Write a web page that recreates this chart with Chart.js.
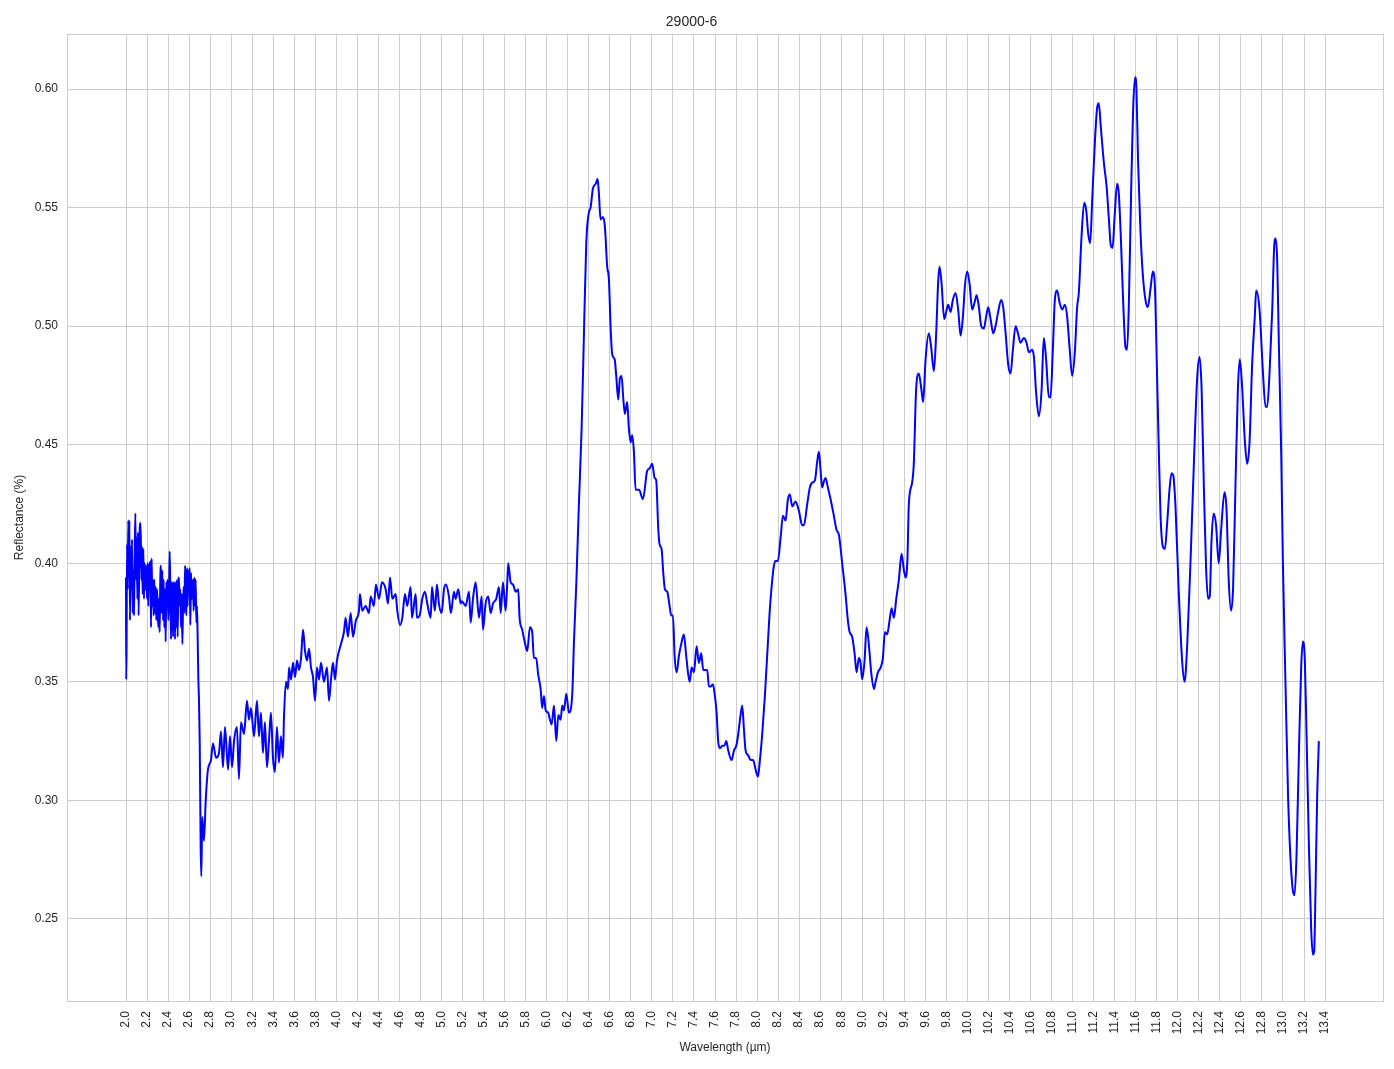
<!DOCTYPE html>
<html>
<head>
<meta charset="utf-8">
<script src="https://cdn.jsdelivr.net/npm/chart.js@4.4.1/dist/chart.umd.min.js"></script>
<style>
  html, body { margin: 0; padding: 0; background: #ffffff; }
  canvas { display: block; }
</style>
</head>
<body>
<canvas id="chart" width="1394" height="1069"></canvas>
<script>
// [wavelength µm, reflectance] pairs, by region
const noisyStart = [
  [2.000,0.394],[2.002,0.351],[2.005,0.362],[2.010,0.408],[2.016,0.389],[2.022,0.418],[2.029,0.399],
  [2.032,0.418],[2.038,0.376],[2.044,0.407],[2.051,0.389],[2.057,0.410],[2.063,0.379],[2.070,0.397],
  [2.076,0.378],[2.082,0.403],[2.089,0.421],[2.095,0.393],[2.101,0.411],[2.108,0.385],[2.114,0.413],
  [2.120,0.378],[2.127,0.407],[2.133,0.416],[2.139,0.417],[2.146,0.393],[2.152,0.407],[2.158,0.387],
  [2.165,0.406],[2.171,0.385],[2.177,0.400],[2.184,0.389],[2.190,0.399],[2.200,0.385],[2.206,0.400],
  [2.212,0.382],[2.219,0.400],[2.225,0.389],[2.231,0.401],[2.238,0.373],[2.244,0.402],[2.250,0.382],
  [2.257,0.393],[2.263,0.378],[2.269,0.393],[2.276,0.379],[2.282,0.390],[2.288,0.376],[2.295,0.389],
  [2.301,0.382],[2.307,0.373],[2.314,0.385],[2.320,0.371],[2.326,0.393],[2.333,0.399],[2.339,0.379],
  [2.345,0.397],[2.352,0.376],[2.358,0.393],[2.364,0.373],[2.371,0.389],[2.377,0.367],[2.383,0.392],
  [2.390,0.385],[2.396,0.393],[2.402,0.376],[2.409,0.385],[2.415,0.405],[2.421,0.390],[2.428,0.368],
  [2.434,0.389],[2.440,0.392],[2.447,0.369],[2.453,0.389],[2.459,0.392],[2.466,0.368],[2.472,0.392],
  [2.478,0.373],[2.485,0.393],[2.491,0.369],[2.497,0.390],[2.504,0.394],[2.510,0.382],[2.516,0.389],
  [2.523,0.373],[2.529,0.387],[2.536,0.366],[2.542,0.382],[2.548,0.390],[2.555,0.379],[2.561,0.399],
  [2.567,0.389],[2.574,0.378],[2.580,0.398],[2.586,0.382],[2.593,0.397],[2.599,0.389],[2.605,0.398],
  [2.612,0.374],[2.618,0.396],[2.624,0.385],[2.631,0.389],[2.637,0.393],[2.643,0.380],[2.650,0.394],
  [2.656,0.382],[2.662,0.393],[2.669,0.375],[2.675,0.382],[2.681,0.369],[2.688,0.351],[2.694,0.342]
];

const dropAndRecovery = [
  [2.701,0.324],[2.710,0.280],[2.716,0.268],[2.725,0.293],[2.741,0.283],[2.758,0.300],[2.779,0.313],
  [2.808,0.317],[2.827,0.324],[2.856,0.318],[2.884,0.320],[2.903,0.329],[2.922,0.314],[2.941,0.331],
  [2.970,0.313],[2.989,0.327],[3.008,0.314],[3.027,0.325],[3.055,0.331],[3.074,0.309],[3.093,0.333],
  [3.122,0.328],[3.150,0.342],[3.169,0.334],[3.188,0.339],[3.217,0.327],[3.245,0.342],[3.264,0.327],
  [3.283,0.337],[3.302,0.320],[3.321,0.333],[3.340,0.314],[3.359,0.325],[3.378,0.337],[3.397,0.318],
  [3.416,0.312],[3.435,0.331],[3.454,0.316],[3.473,0.327],[3.492,0.318],[3.502,0.335],[3.521,0.350],
  [3.540,0.347],[3.550,0.356],[3.569,0.351],[3.588,0.358],[3.607,0.352],[3.626,0.359],[3.645,0.355],
  [3.664,0.360],[3.683,0.372],[3.702,0.363],[3.721,0.359],[3.740,0.364],[3.759,0.356],[3.778,0.352],
  [3.797,0.342],[3.816,0.356],[3.835,0.351],[3.854,0.358],[3.882,0.350],[3.911,0.356],[3.930,0.342],
  [3.949,0.351],[3.968,0.358],[3.987,0.351],[4.006,0.359]
];

const plateau = [
  [4.044,0.366],[4.072,0.371],[4.088,0.377],[4.110,0.369],[4.136,0.379],[4.158,0.369],[4.186,0.376],
  [4.215,0.380],[4.224,0.387],[4.246,0.380],[4.278,0.382],[4.310,0.379],[4.326,0.386],[4.357,0.382],
  [4.376,0.391],[4.405,0.385],[4.434,0.392],[4.469,0.389],[4.491,0.383],[4.510,0.394],[4.532,0.385],
  [4.564,0.387],[4.579,0.380],[4.605,0.374],[4.627,0.377],[4.652,0.387],[4.674,0.382],[4.706,0.390],
  [4.719,0.377],[4.754,0.387],[4.766,0.377],[4.792,0.378],[4.817,0.385],[4.842,0.388],[4.864,0.383],
  [4.897,0.377],[4.909,0.390],[4.937,0.380],[4.956,0.391],[4.975,0.383],[5.001,0.379],[5.023,0.389],
  [5.042,0.391],[5.070,0.386],[5.089,0.379],[5.118,0.388],[5.134,0.385],[5.159,0.389],[5.182,0.383],
  [5.194,0.384],[5.229,0.382],[5.261,0.388],[5.277,0.375],[5.299,0.385],[5.324,0.392],[5.356,0.377],
  [5.381,0.386],[5.394,0.372],[5.419,0.383],[5.444,0.386],[5.467,0.379],[5.489,0.383],[5.520,0.385],
  [5.546,0.390],[5.562,0.379],[5.584,0.392],[5.609,0.380],[5.625,0.392],[5.634,0.400],[5.657,0.392],
  [5.680,0.391],[5.704,0.388],[5.729,0.389],[5.742,0.377],[5.767,0.372],[5.790,0.367],[5.815,0.363],
  [5.840,0.373],[5.862,0.371],[5.878,0.360],[5.900,0.360],[5.919,0.353],[5.942,0.347],[5.957,0.339],
  [5.974,0.344],[5.990,0.338],[6.014,0.337],[6.031,0.334],[6.047,0.332],[6.069,0.340],[6.091,0.325],
  [6.110,0.336],[6.132,0.334],[6.148,0.340],[6.164,0.338],[6.186,0.345],[6.211,0.337],[6.243,0.345]
];

const peak65 = [
  [6.259,0.367],[6.281,0.391],[6.306,0.425],[6.332,0.457],[6.354,0.497],[6.376,0.535],[6.401,0.548],
  [6.417,0.550],[6.439,0.558],[6.465,0.560],[6.484,0.562],[6.496,0.556],[6.512,0.545],[6.534,0.546],
  [6.553,0.542],[6.575,0.525],[6.591,0.520],[6.608,0.499],[6.623,0.488],[6.646,0.486],[6.661,0.479],
  [6.680,0.469],[6.696,0.478],[6.712,0.479],[6.727,0.470],[6.743,0.463],[6.765,0.468],[6.781,0.457],
  [6.798,0.451],[6.813,0.454],[6.829,0.447],[6.845,0.431],[6.877,0.431],[6.915,0.427],[6.955,0.439],
  [6.978,0.440],[7.003,0.442],[7.026,0.436],[7.041,0.435],[7.060,0.415],[7.073,0.408],[7.092,0.406],
  [7.108,0.396],[7.124,0.389],[7.146,0.388],[7.168,0.382],[7.184,0.378],[7.200,0.378],[7.216,0.361],
  [7.235,0.354],[7.257,0.361],[7.279,0.366],[7.304,0.370],[7.326,0.361],[7.359,0.350],[7.378,0.356],
  [7.400,0.354],[7.425,0.365],[7.447,0.358],[7.469,0.362],[7.488,0.355],[7.511,0.355],[7.526,0.355],
  [7.542,0.348],[7.558,0.348],[7.580,0.349],[7.599,0.344],[7.615,0.337],[7.630,0.325],[7.647,0.322],
  [7.669,0.323],[7.688,0.323],[7.707,0.325],[7.726,0.321],[7.758,0.317],[7.780,0.321],[7.802,0.323],
  [7.821,0.328],[7.840,0.335],[7.859,0.340],[7.875,0.330],[7.891,0.321],[7.916,0.319],[7.938,0.317],
  [7.963,0.317],[7.986,0.313],[8.008,0.310]
];

const band86 = [
  [8.027,0.317],[8.049,0.328],[8.074,0.344],[8.096,0.361],[8.119,0.379],[8.138,0.390],[8.160,0.399],
  [8.176,0.401],[8.198,0.401],[8.224,0.411],[8.246,0.420],[8.271,0.418],[8.293,0.427],[8.312,0.429],
  [8.334,0.424],[8.366,0.426],[8.398,0.422],[8.429,0.416],[8.445,0.416],[8.477,0.425],[8.502,0.432],
  [8.524,0.434],[8.550,0.435],[8.572,0.443],[8.588,0.447],[8.604,0.439],[8.619,0.432],[8.632,0.434],
  [8.651,0.436],[8.673,0.432],[8.699,0.427],[8.730,0.420],[8.756,0.414],[8.778,0.412],[8.809,0.400],
  [8.841,0.387],[8.863,0.376],[8.880,0.371],[8.904,0.369],[8.927,0.362],[8.946,0.354],[8.968,0.360],
  [8.984,0.358],[8.999,0.351],[9.022,0.359],[9.041,0.373],[9.064,0.365],[9.085,0.354],[9.111,0.347],
  [9.127,0.350],[9.149,0.354],[9.174,0.356],[9.196,0.360],[9.215,0.371],[9.237,0.370],[9.260,0.376],
  [9.279,0.381],[9.301,0.377],[9.323,0.385],[9.348,0.393],[9.374,0.404],[9.393,0.398],[9.412,0.394],
  [9.429,0.401],[9.443,0.425],[9.474,0.434],[9.490,0.442]
];

const band10 = [
  [9.512,0.473],[9.538,0.480],[9.563,0.473],[9.579,0.468],[9.602,0.486],[9.633,0.497],[9.655,0.491],
  [9.681,0.481],[9.703,0.497],[9.722,0.519],[9.735,0.525],[9.754,0.518],[9.779,0.503],[9.798,0.506],
  [9.817,0.509],[9.840,0.506],[9.861,0.511],[9.887,0.514],[9.912,0.507],[9.935,0.496],[9.957,0.504],
  [9.976,0.517],[9.998,0.523],[10.020,0.518],[10.045,0.507],[10.068,0.510],[10.087,0.513],[10.109,0.508],
  [10.131,0.500],[10.156,0.499],[10.178,0.504],[10.197,0.508],[10.220,0.503],[10.245,0.497],[10.267,0.500],
  [10.292,0.506],[10.321,0.511],[10.340,0.508],[10.363,0.497],[10.387,0.484],[10.410,0.480],[10.432,0.490],
  [10.458,0.500],[10.480,0.497],[10.505,0.493],[10.536,0.495],[10.562,0.493],[10.584,0.489],[10.615,0.490],
  [10.632,0.487],[10.653,0.472],[10.679,0.462],[10.705,0.473],[10.726,0.495],[10.748,0.486],[10.774,0.470],
  [10.790,0.470],[10.812,0.490],[10.831,0.511],[10.853,0.515],[10.876,0.510],[10.901,0.507],[10.926,0.509],
  [10.948,0.504],[10.971,0.491],[10.996,0.479],[11.021,0.489],[11.043,0.508],[11.059,0.514],[11.085,0.538],
  [11.110,0.552],[11.129,0.549],[11.148,0.539],[11.167,0.535],[11.186,0.553],[11.211,0.577],[11.233,0.592],
  [11.249,0.594],[11.268,0.584],[11.297,0.569],[11.323,0.559],[11.345,0.545],[11.363,0.534],[11.380,0.533],
  [11.399,0.546],[11.423,0.560],[11.439,0.556],[11.458,0.538],[11.480,0.511],[11.503,0.491],[11.518,0.490],
  [11.534,0.508],[11.556,0.556],[11.575,0.591],[11.594,0.605],[11.607,0.600],[11.622,0.570],[11.645,0.540],
  [11.667,0.522],[11.693,0.511],[11.715,0.508],[11.741,0.516],[11.763,0.523],[11.782,0.517]
];

const band12 = [
  [11.804,0.477],[11.820,0.447],[11.836,0.420],[11.858,0.407],[11.877,0.406],[11.899,0.417],[11.921,0.431],
  [11.940,0.438],[11.957,0.437],[11.978,0.424],[12.010,0.387],[12.041,0.359],[12.064,0.350],[12.089,0.365],
  [12.121,0.401],[12.152,0.441],[12.184,0.478],[12.207,0.487],[12.226,0.474],[12.248,0.432],[12.269,0.398],
  [12.288,0.385],[12.304,0.386],[12.320,0.409],[12.341,0.421],[12.364,0.416],[12.389,0.400],[12.412,0.414],
  [12.444,0.430],[12.463,0.423],[12.485,0.392],[12.507,0.380],[12.526,0.390],[12.549,0.434],[12.571,0.473],
  [12.590,0.486],[12.612,0.474],[12.637,0.452],[12.659,0.442],[12.682,0.451],[12.707,0.484],[12.732,0.504],
  [12.745,0.515],[12.777,0.507],[12.809,0.481],[12.834,0.466],[12.850,0.466],[12.872,0.480],[12.898,0.507],
  [12.917,0.534],[12.930,0.537],[12.945,0.528],[12.961,0.492],[12.983,0.447],[12.999,0.401],[13.025,0.347],
  [13.049,0.301],[13.072,0.275],[13.094,0.262],[13.110,0.260],[13.129,0.277],[13.151,0.319],[13.173,0.356],
  [13.189,0.367],[13.208,0.359],[13.224,0.328],[13.246,0.282],[13.268,0.246],[13.284,0.235],[13.296,0.236],
  [13.310,0.264],[13.325,0.301],[13.341,0.325]
];

const xTickValues = [];
for (let i = 0; i <= 57; i++) xTickValues.push(2.0 + i * 0.2);
const yTickValues = [0.25, 0.30, 0.35, 0.40, 0.45, 0.50, 0.55, 0.60];

const FONT = 'Arial, "Liberation Sans", "DejaVu Sans", sans-serif';
const TEXT = '#262626';
const GRID = '#cccccc';

const spectrum = [...noisyStart, ...dropAndRecovery, ...plateau, ...peak65, ...band86, ...band10, ...band12]
  .map(([x, y]) => ({ x, y }));

// full box round the plot area, like the seaborn whitegrid frame
const frame = {
  id: 'frame',
  afterDraw(chart) {
    const { ctx, chartArea: a } = chart;
    ctx.save();
    ctx.strokeStyle = GRID;
    ctx.lineWidth = 1;
    ctx.strokeRect(Math.round(a.left) + 0.5, Math.round(a.top) + 0.5,
      Math.round(a.right - a.left), Math.round(a.bottom - a.top));
    ctx.restore();
  }
};

new Chart(document.getElementById('chart').getContext('2d'), {
  type: 'line',
  data: {
    datasets: [{
      data: spectrum,
      borderColor: '#0000ff',
      borderWidth: 2,
      pointRadius: 0,
      fill: false,
      cubicInterpolationMode: 'monotone'
    }]
  },
  options: {
    responsive: false,
    animation: false,
    devicePixelRatio: 1,
    parsing: false,
    layout: { padding: { left: 0, right: 11, top: 0, bottom: 0 } },
    plugins: {
      legend: { display: false },
      tooltip: { enabled: false },
      title: {
        display: true,
        text: '29000-6',
        color: TEXT,
        font: { family: FONT, size: 14, weight: 'normal' },
        padding: { top: 14, bottom: 3.2 }
      }
    },
    scales: {
      x: {
        type: 'linear',
        min: 1.439,
        max: 13.951,
        afterBuildTicks: axis => { axis.ticks = xTickValues.map(v => ({ value: v })); },
        afterFit: axis => { axis.height = 68; },
        ticks: {
          autoSkip: false,
          minRotation: 90,
          maxRotation: 90,
          padding: 10,
          color: TEXT,
          font: { family: FONT, size: 12 },
          callback: v => Number(v).toFixed(1)
        },
        grid: { color: GRID, drawTicks: false },
        border: { color: GRID },
        title: {
          display: true,
          text: 'Wavelength (µm)',
          color: TEXT,
          font: { family: FONT, size: 12 },
          padding: { top: 4, bottom: 14 }
        }
      },
      y: {
        type: 'linear',
        min: 0.2154,
        max: 0.6232,
        afterBuildTicks: axis => { axis.ticks = yTickValues.map(v => ({ value: v })); },
        afterFit: axis => { axis.width = 67; },
        ticks: {
          padding: 9,
          color: TEXT,
          font: { family: FONT, size: 12 },
          callback: v => Number(v).toFixed(2)
        },
        grid: { color: GRID, drawTicks: false },
        border: { color: GRID },
        title: {
          display: true,
          text: 'Reflectance (%)',
          color: TEXT,
          font: { family: FONT, size: 12 },
          padding: { top: 12, bottom: 4 }
        }
      }
    }
  },
  plugins: [frame]
});
</script>
</body>
</html>
